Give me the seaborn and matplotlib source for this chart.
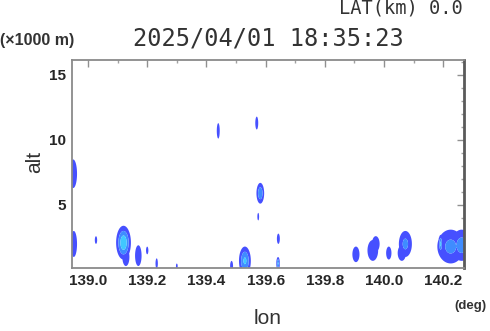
import numpy as np
import matplotlib
matplotlib.use("Agg")
import matplotlib.pyplot as plt
from matplotlib.ticker import MultipleLocator
import seaborn as sns

# ---- data ----
blob_lon  = [138.950, 138.952, 139.027, 139.120, 139.170, 139.200, 139.232, 139.300,
             139.485, 139.530, 139.440, 139.570, 139.582, 139.575, 139.643, 139.642,
             139.905, 139.962, 140.016, 140.072, 140.225, 140.191, 140.262, 139.128,
             139.972, 140.060]
blob_alt  = [7.4, 2.0, 2.3, 2.1, 1.1, 1.5, 0.5, 0.3,
             0.3, 0.7, 10.7, 11.3, 5.9, 4.1, 2.4, 0.5,
             1.2, 1.5, 1.3, 2.0, 1.8, 2.0, 1.9, 1.0,
             2.0, 1.3]
blob_dlon = [0.013, 0.011, 0.004, 0.025, 0.011, 0.004, 0.004, 0.003,
             0.005, 0.020, 0.005, 0.005, 0.013, 0.003, 0.005, 0.006,
             0.012, 0.018, 0.009, 0.022, 0.045, 0.007, 0.035, 0.012,
             0.013, 0.014]
blob_dalt = [1.1, 1.0, 0.3, 1.3, 0.8, 0.3, 0.4, 0.2,
             0.4, 1.1, 0.6, 0.5, 0.8, 0.3, 0.4, 0.5,
             0.6, 0.8, 0.5, 1.0, 1.3, 0.7, 1.2, 0.7,
             0.6, 0.6]
blob_peak = [1.6, 1.6, 1.4, 3.8, 1.7, 1.4, 1.4, 1.4,
             1.4, 3.2, 1.5, 1.5, 2.8, 1.4, 1.4, 3.2,
             1.6, 1.7, 1.6, 2.3, 2.3, 3.3, 2.5, 1.6,
             1.6, 1.6]

x_ticks = [139.0, 139.2, 139.4, 139.6, 139.8, 140.0, 140.2]
y_ticks = [5, 10, 15]
levels = [1.0, 2.0, 3.0, 99.0]
level_colors = ["#4650ff", "#3f8cff", "#40c8ff"]

# ---- field on grid ----
lon = np.linspace(138.93, 140.30, 700)
alt = np.linspace(0.0, 16.5, 500)
LON, ALT = np.meshgrid(lon, alt)
field = np.zeros_like(LON)
for cx, cy, dx, dy, p in zip(blob_lon, blob_alt, blob_dlon, blob_dalt, blob_peak):
    d2 = ((LON - cx) / dx) ** 2 + ((ALT - cy) / dy) ** 2
    f = p * np.exp(-d2 * np.log(p))
    field = np.maximum(field, f)

sns.set_style("white")
plt.rcParams["font.family"] = ["Liberation Sans", "DejaVu Sans"]

fig = plt.figure(figsize=(4.9, 3.31), dpi=100)
ax = fig.add_axes([72 / 490, 1 - 268 / 331, 392 / 490, 208 / 331])
ax.contourf(LON, ALT, field, levels=levels, colors=level_colors, antialiased=True)

ax.set_xlim(138.946, 140.27)
ax.set_ylim(0.15, 16.15)
ax.set_xticks(x_ticks)
ax.set_xticklabels([f"{v:.1f}" for v in x_ticks])
ax.set_yticks(y_ticks)
ax.set_yticklabels([str(v) for v in y_ticks])
ax.xaxis.set_minor_locator(MultipleLocator(0.1))
ax.yaxis.set_minor_locator(MultipleLocator(1))
ax.tick_params(which="major", direction="in", length=5, width=1, color="#909090",
               top=True, right=True, labelsize=11, labelcolor="#262626", pad=4)
ax.tick_params(which="minor", direction="in", length=2.5, width=1, color="#a0a0a0",
               top=True, right=True)
for lab in ax.get_xticklabels() + ax.get_yticklabels():
    lab.set_fontweight("bold")
for s in ["left", "top", "bottom"]:
    ax.spines[s].set_color("#8a8a8a")
    ax.spines[s].set_linewidth(1.3)
ax.spines["right"].set_color("#5a5a5a")
ax.spines["right"].set_linewidth(2.0)

tc = "#333333"
fig.text(463 / 490, 1 - 8 / 331, "LAT(km) 0.0", ha="right", va="center",
         fontsize=13.5, color=tc, family="DejaVu Sans Mono")
fig.text(268 / 490, 1 - 38 / 331, "2025/04/01 18:35:23", ha="center", va="center",
         fontsize=17, color=tc, family="DejaVu Sans Mono")
fig.text(0.0, 1 - 40 / 331, "(×1000 m)", ha="left", va="center",
         fontsize=11.5, color=tc, fontweight="bold")
fig.text(486 / 490, 1 - 306 / 331, "(deg)", ha="right", va="center",
         fontsize=9.5, color=tc, fontweight="bold")
fig.text(268 / 490, 1 - 318 / 331, "lon", ha="center", va="center",
         fontsize=15, color=tc)
fig.text(35 / 490, 1 - 162 / 331, "alt", ha="center", va="center",
         fontsize=15, color=tc, rotation=90)

fig.savefig("out.png", dpi=100)
